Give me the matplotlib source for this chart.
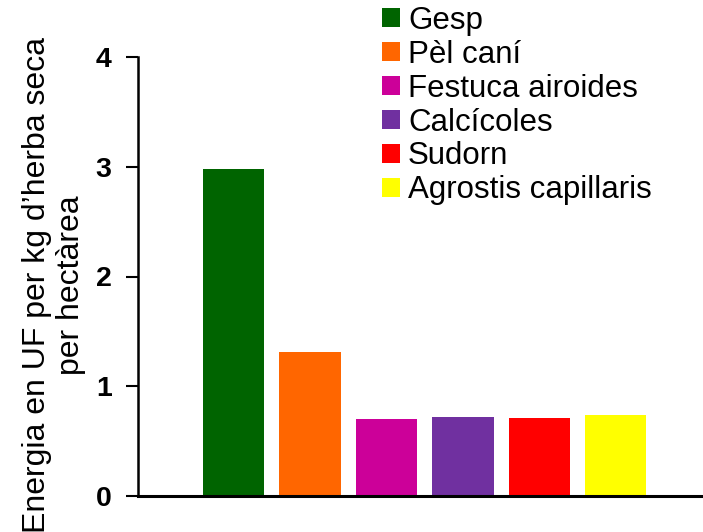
import matplotlib
matplotlib.use("Agg")
import matplotlib.pyplot as plt
from matplotlib.patches import Patch

categories = ["Gesp", "Pèl caní", "Festuca airoides", "Calcícoles", "Sudorn", "Agrostis capillaris"]
values = [2.98, 1.31, 0.70, 0.72, 0.71, 0.74]
colors = ["#006400", "#FF6600", "#CC0099", "#7030A0", "#FF0000", "#FFFF00"]
yticks = [0, 1, 2, 3, 4]
ylabel = "Energia en UF per kg d\u2019herba seca\nper hectàrea"

plt.rcParams['font.family'] = ['Liberation Sans', 'DejaVu Sans']

fig = plt.figure(figsize=(7.03, 5.32), dpi=100)
ax = fig.add_axes([138/703, 36/532, 1 - 138/703, (496-57)/532])

x = list(range(len(categories)))
bars = ax.bar(x, values, width=0.8, color=colors)
ax.set_xlim(-1.25, 6.14)
ax.set_ylim(0, 4)
ax.set_yticks(yticks)
ax.set_yticklabels([str(t) for t in yticks], fontsize=20.5, fontweight='bold')
ax.set_xticks([])
for s in ['top', 'right']:
    ax.spines[s].set_visible(False)
ax.spines['left'].set_linewidth(1.8)
ax.spines['bottom'].set_linewidth(2.2)
ax.tick_params(axis='y', direction='out', length=9, width=1.5, pad=10)

fig.text(54/703, 1 - 285/532, ylabel, rotation=90, ha='center', va='center',
         multialignment='center', fontsize=23, linespacing=1.2)

handles = [Patch(facecolor=c, edgecolor='none') for c in colors]
leg = fig.legend(handles, categories, loc='upper left', bbox_to_anchor=(379/703, 0.995),
                 frameon=False, fontsize=22.5, handlelength=0.58, handleheight=0.58,
                 handletextpad=0.25, labelspacing=0.125, borderaxespad=0, borderpad=0.1)

fig.savefig("out.png", dpi=100)
